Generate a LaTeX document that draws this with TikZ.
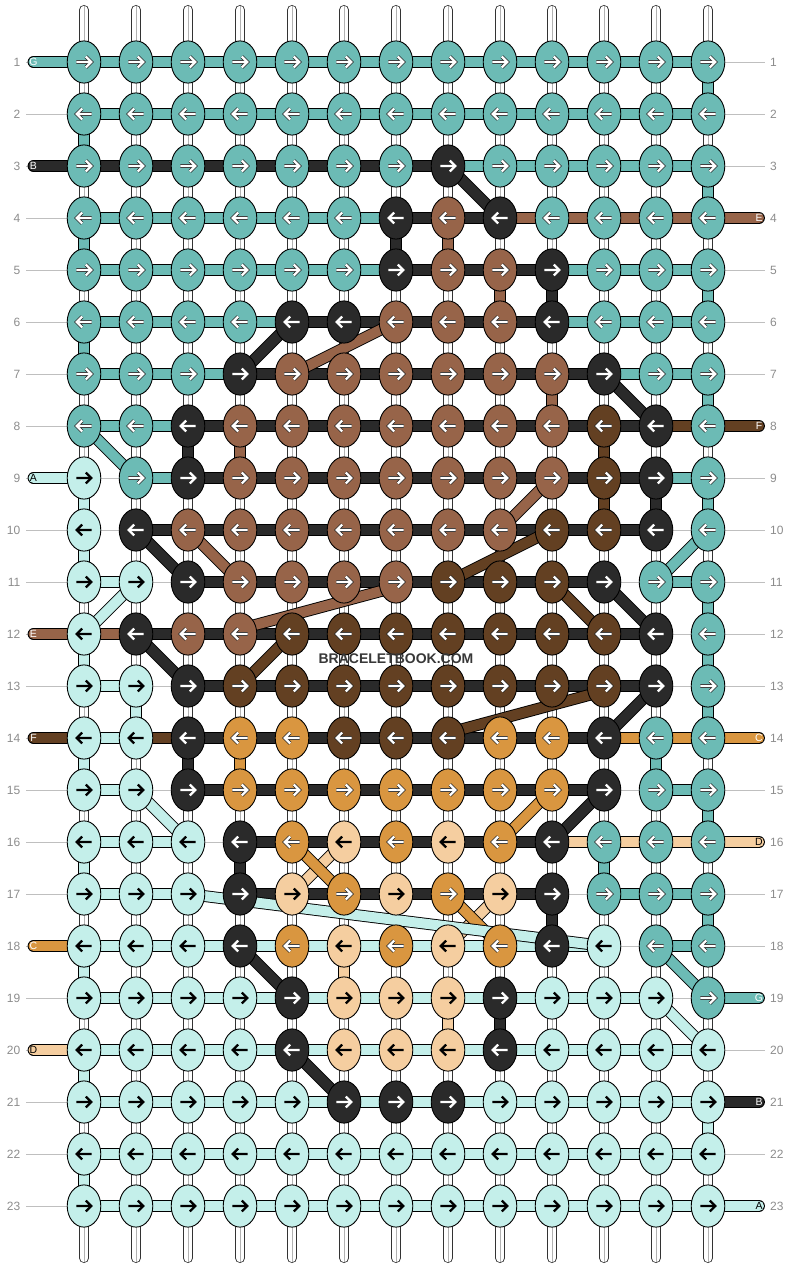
\documentclass[tikz,border=0pt]{standalone}
\usepackage{fontspec}
\setmainfont{Liberation Sans}
\usetikzlibrary{shapes.geometric}

\definecolor{cT}{HTML}{6CBBB5}
\definecolor{cL}{HTML}{C4EFEA}
\definecolor{cK}{HTML}{2A2A2A}
\definecolor{cR}{HTML}{976449}
\definecolor{cD}{HTML}{634022}
\definecolor{cO}{HTML}{D99640}
\definecolor{cP}{HTML}{F5CEA0}
\colorlet{aT}{white}\colorlet{aK}{white}\colorlet{aR}{white}\colorlet{aD}{white}
\colorlet{aO}{white}\colorlet{aL}{black}\colorlet{aP}{black}
\colorlet{oT}{black!85}\colorlet{oK}{cK}\colorlet{oR}{black!85}\colorlet{oD}{black!85}
\colorlet{oO}{black!85}\colorlet{oL}{cL}\colorlet{oP}{cP}

\pgfdeclarelayer{back}
\pgfsetlayers{back,main}

\tikzset{
  knot/.style={ellipse, draw=black, line width=0.9pt, minimum width=33.6pt, minimum height=42.2pt, inner sep=0pt},
  thread/.style={draw=black, line width=0.9pt, double=#1, double distance=10pt},
  warp/.style={draw=black!80, line width=0.8pt, double=white, double distance=8.4pt, line cap=round},
  rowline/.style={draw=black!25, line width=0.8pt},
  rowlab/.style={text=black!45, inner sep=0pt, font=\fontsize{12}{12}\selectfont},
  endlab/.style={inner sep=0pt, font=\fontsize{10.5}{10.5}\selectfont},
  arrowline/.style={line join=miter, line cap=butt}
}

\begin{document}
\begin{tikzpicture}[x=1pt, y=-1pt]
\useasboundingbox (0,0) rectangle (792,1268);

\foreach \rw/\ks in {
  1/{T,T,T,T,T,T,T,T,T,T,T,T,T},
  2/{T,T,T,T,T,T,T,T,T,T,T,T,T},
  3/{T,T,T,T,T,T,T,K,T,T,T,T,T},
  4/{T,T,T,T,T,T,K,R,K,T,T,T,T},
  5/{T,T,T,T,T,T,K,R,R,K,T,T,T},
  6/{T,T,T,T,K,K,R,R,R,K,T,T,T},
  7/{T,T,T,K,R,R,R,R,R,R,K,T,T},
  8/{T,T,K,R,R,R,R,R,R,R,D,K,T},
  9/{L,T,K,R,R,R,R,R,R,R,D,K,T},
  10/{L,K,R,R,R,R,R,R,R,D,D,K,T},
  11/{L,L,K,R,R,R,R,D,D,D,K,T,T},
  12/{L,K,R,R,D,D,D,D,D,D,D,K,T},
  13/{L,L,K,D,D,D,D,D,D,D,D,K,T},
  14/{L,L,K,O,O,D,D,D,O,O,K,T,T},
  15/{L,L,K,O,O,O,O,O,O,O,K,T,T},
  16/{L,L,L,K,O,P,O,P,O,K,T,T,T},
  17/{L,L,L,K,P,O,P,O,P,K,T,T,T},
  18/{L,L,L,K,O,P,O,P,O,K,L,T,T},
  19/{L,L,L,L,K,P,P,P,K,L,L,L,T},
  20/{L,L,L,L,K,P,P,P,K,L,L,L,L},
  21/{L,L,L,L,L,K,K,K,L,L,L,L,L},
  22/{L,L,L,L,L,L,L,L,L,L,L,L,L},
  23/{L,L,L,L,L,L,L,L,L,L,L,L,L}}{
  \pgfmathsetmacro{\dir}{ifthenelse(mod(\rw,2)==1,1,-1)}
  \foreach \kc [count=\cc] in \ks {
    \node[knot, fill=c\kc] (k-\rw-\cc) at ({32+52*\cc},{10+52*\rw}) {};
    \draw[arrowline, draw=o\kc, line width=3.6pt, shift={(k-\rw-\cc.center)}, xscale=\dir]
      (-7.6,0) -- (6.6,0) (1.8,-5.4) -- (7.4,0) -- (1.8,5.4);
    \draw[arrowline, draw=a\kc, line width=2.2pt, shift={(k-\rw-\cc.center)}, xscale=\dir]
      (-7.6,0) -- (6.6,0) (1.8,-5.4) -- (7.4,0) -- (1.8,5.4);
  }
}

\foreach \rw in {1,...,23} {
  \node[rowlab, anchor=east] (ln-\rw) at (20.5,{10+52*\rw}) {\rw};
  \node[rowlab, anchor=west] (rn-\rw) at (770,{10+52*\rw}) {\rw};
}

\foreach \nm/\rw/\tc in {G/1/white, B/3/white, A/9/black, E/12/white, F/14/white, C/18/white, D/20/black}
  \node[endlab, text=\tc] (le-\rw) at (33.5,{10+52*\rw}) {\nm};
\foreach \nm/\rw/\tc in {E/4/white, F/8/white, C/14/white, D/16/black, G/19/white, B/21/white, A/23/black}
  \node[endlab, text=\tc] (re-\rw) at (759,{10+52*\rw}) {\nm};

\node[font=\bfseries\fontsize{14}{14}\selectfont, text=black!78] (mark) at (396,659) {BRACELETBOOK.COM};

\begin{pgfonlayer}{back}
\foreach \cc in {1,...,13} {
  \draw[warp] ({32+52*\cc},10) -- ({32+52*\cc},1258);
  \draw[black!30, line width=0.6pt] ({32+52*\cc},6) -- ({32+52*\cc},1262);
}
\foreach \rw in {1,...,23}
  \draw[rowline] ([xshift=5.5pt]ln-\rw.east) -- ([xshift=-5.5pt]rn-\rw.west);

\foreach \rw/\cl in {1/T, 3/K, 9/L, 12/R, 14/D, 18/O, 20/P}
  \draw[thread=c\cl, line cap=round] (le-\rw.center) -- (k-\rw-1.center);
\foreach \rw/\cl in {4/R, 8/D, 14/O, 16/P, 19/T, 21/K, 23/L}
  \draw[thread=c\cl, line cap=round] (k-\rw-13.center) -- (re-\rw.center);

\foreach \rw/\bs in {
  1/{T,T,T,T,T,T,T,T,T,T,T,T},
  2/{T,T,T,T,T,T,T,T,T,T,T,T},
  3/{K,K,K,K,K,K,K,T,T,T,T,T},
  4/{T,T,T,T,T,T,K,K,R,R,R,R},
  5/{T,T,T,T,T,T,K,K,K,T,T,T},
  6/{T,T,T,T,K,K,K,K,K,T,T,T},
  7/{T,T,T,K,K,K,K,K,K,K,T,T},
  8/{T,T,K,K,K,K,K,K,K,K,K,D},
  9/{-,T,K,K,K,K,K,K,K,K,K,T},
  10/{-,K,K,K,K,K,K,K,K,K,K,-},
  11/{L,-,K,K,K,K,K,K,K,K,-,T},
  12/{R,K,K,K,K,K,K,K,K,K,K,-},
  13/{L,-,K,K,K,K,K,K,K,K,K,-},
  14/{L,D,K,K,K,K,K,K,K,K,O,O},
  15/{L,-,K,K,K,K,K,K,K,K,-,T},
  16/{L,L,-,K,K,K,K,K,K,P,P,P},
  17/{L,L,-,K,K,K,K,K,K,-,T,T},
  18/{L,L,L,L,L,L,L,L,L,L,-,T},
  19/{L,L,L,L,L,L,L,L,L,L,L,-},
  20/{L,L,L,L,L,L,L,L,L,L,L,L},
  21/{L,L,L,L,L,L,L,L,L,L,L,L},
  22/{L,L,L,L,L,L,L,L,L,L,L,L},
  23/{L,L,L,L,L,L,L,L,L,L,L,L}}{
  \foreach \bc [count=\cc] in \bs {
    \if\bc-\else
      \pgfmathtruncatemacro{\cn}{\cc+1}
      \draw[thread=c\bc] (k-\rw-\cc.center) -- (k-\rw-\cn.center);
    \fi
  }
}

\foreach \ra/\ca/\rb/\cb/\cl in {
  1/13/2/13/T, 2/1/3/1/T, 3/13/4/13/T, 4/1/5/1/T, 5/13/6/13/T, 6/1/7/1/T, 7/13/8/13/T,
  9/13/10/13/T, 11/13/12/13/T, 12/13/13/13/T, 13/13/14/13/T, 14/12/15/12/T,
  15/13/16/13/T, 16/11/17/11/T, 17/13/18/13/T,
  4/7/5/7/K, 5/10/6/10/K, 8/3/9/3/K, 9/12/10/12/K, 14/3/15/3/K, 16/4/17/4/K,
  17/10/18/10/K, 19/9/20/9/K,
  4/8/5/8/R, 5/9/6/9/R, 7/10/8/10/R, 8/4/9/4/R,
  8/11/9/11/D, 9/11/10/11/D, 14/4/15/4/O, 18/6/19/6/P, 19/8/20/8/P,
  9/1/10/1/L, 10/1/11/1/L, 12/1/13/1/L, 13/2/14/2/L, 14/1/15/1/L, 16/1/17/1/L,
  18/1/19/1/L, 20/1/21/1/L, 21/13/22/13/L, 22/1/23/1/L,
  8/1/9/2/T, 10/13/11/12/T, 18/12/19/13/T,
  3/8/4/9/K, 6/5/7/4/K, 7/11/8/12/K, 10/2/11/3/K, 11/11/12/12/K, 12/2/13/3/K,
  13/12/14/11/K, 15/11/16/10/K, 18/4/19/5/K, 20/5/21/6/K,
  6/7/7/5/R, 9/10/10/9/R, 10/3/11/4/R,
  10/10/11/8/D, 11/10/12/11/D, 12/5/13/4/D,
  16/6/17/5/P, 17/9/18/8/P, 15/10/16/9/O, 16/5/17/6/O, 17/8/18/9/O,
  11/2/12/1/L, 15/2/16/3/L, 19/12/20/13/L, 17/3/18/11/L}
  \draw[thread=c\cl] (k-\ra-\ca.center) -- (k-\rb-\cb.center);

\draw[thread=cR] ([yshift=-5pt]k-11-7.center) -- ([yshift=5pt]k-12-4.center);
\draw[thread=cD] ([yshift=-5pt]k-13-11.center) -- ([yshift=5pt]k-14-8.center);
\end{pgfonlayer}
\end{tikzpicture}
\end{document}
